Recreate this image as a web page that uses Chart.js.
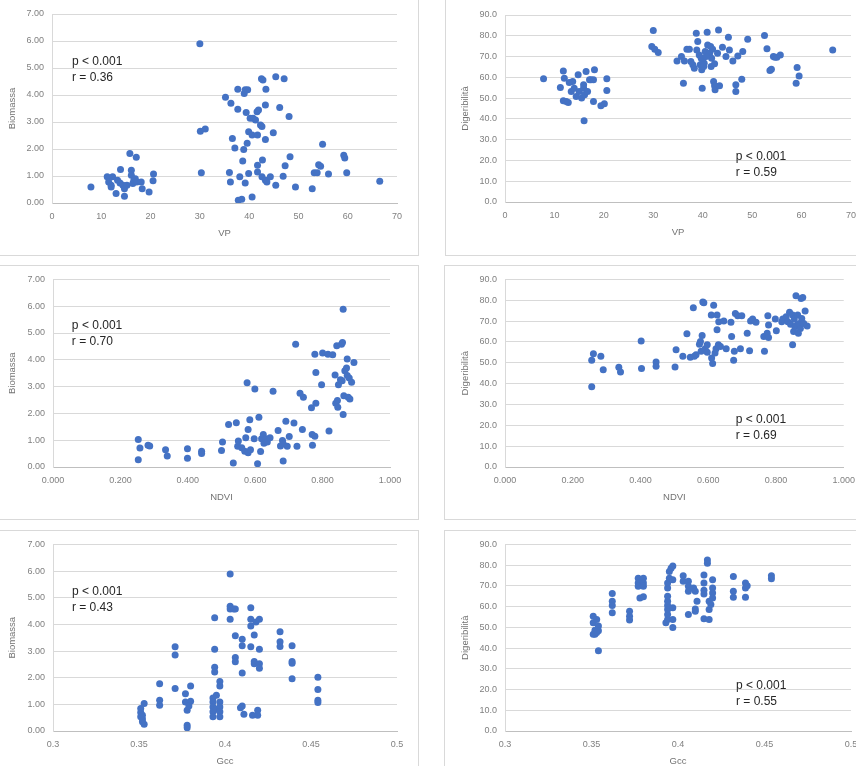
<!DOCTYPE html>
<html lang="it">
<head>
<meta charset="utf-8">
<title>Biomassa e digeribilità</title>
<script src="https://cdn.jsdelivr.net/npm/chart.js@4.4.0/dist/chart.umd.min.js"></script>
<style>
  html, body { margin: 0; padding: 0; background: #fff; }
  body { width: 856px; height: 766px; overflow: hidden; position: relative; }
  .panel { position: absolute; box-sizing: border-box; border: 1px solid #d9d9d9; }
  canvas { position: absolute; }
</style>
</head>
<body>
<div class="panel" style="left:-1px;top:-1px;width:420px;height:257px"></div>
<div class="panel" style="left:445px;top:-1px;width:420px;height:257px"></div>
<div class="panel" style="left:-1px;top:265px;width:420px;height:255px"></div>
<div class="panel" style="left:444px;top:265px;width:420px;height:255px"></div>
<div class="panel" style="left:-1px;top:530px;width:420px;height:250px"></div>
<div class="panel" style="left:444px;top:530px;width:420px;height:250px"></div>

<canvas id="vp-bio" width="417" height="243" style="left:0;top:0"></canvas>
<canvas id="vp-dig" width="427" height="242" style="left:453px;top:0"></canvas>
<canvas id="ndvi-bio" width="417" height="241" style="left:0;top:266px"></canvas>
<canvas id="ndvi-dig" width="410" height="241" style="left:453px;top:266px"></canvas>
<canvas id="gcc-bio" width="417" height="240" style="left:0;top:531px"></canvas>
<canvas id="gcc-dig" width="427" height="240" style="left:453px;top:531px"></canvas>

<script>
// Datos: pares [x, y]
const vpBiomassa = [
  [7.9,0.59],[11.2,0.97],[11.5,0.78],[12.0,0.66],[12.3,0.97],[12.0,0.59],[13.0,0.35],[13.3,0.84],[13.9,1.24],[13.8,0.74],
  [14.4,0.66],[14.7,0.25],[14.7,0.53],[15.2,0.66],[15.8,1.83],[16.1,1.21],[16.1,1.03],[16.4,0.72],[16.6,0.84],[16.9,0.90],
  [17.1,1.69],[17.2,0.78],[18.1,0.78],[18.3,0.53],[19.7,0.41],[20.5,0.82],[20.6,1.07],
  [30.0,5.90],[30.1,2.66],[31.1,2.74],[30.3,1.12],[35.2,3.92],[36.3,3.69],[36.6,2.39],[37.1,2.04],[37.7,4.21],[37.7,3.47],
  [38.1,0.97],[36.0,1.13],[36.2,0.78],[37.8,0.10],[38.5,0.14],[38.7,1.56],[38.9,1.98],[39.0,4.06],[39.2,4.19],[39.7,4.19],
  [39.4,3.35],[39.6,2.21],[39.2,0.74],[39.9,1.09],[39.9,2.64],[40.2,3.14],[40.6,2.52],[40.8,3.14],[40.6,0.22],[41.3,3.07],
  [41.6,3.38],[41.9,3.44],[41.7,2.52],[41.7,1.40],[41.7,1.15],[42.3,2.89],[42.6,2.83],[42.5,4.60],[42.8,4.56],[42.7,1.59],
  [42.6,0.97],[43.3,3.63],[43.4,4.21],[43.3,2.35],[43.3,0.84],[43.6,0.78],[44.3,0.97],[44.9,2.60],[45.4,4.68],[45.4,0.66],
  [46.2,3.54],[46.9,0.99],[47.1,4.60],[47.3,1.38],[48.1,3.20],[48.3,1.71],[49.4,0.59],[52.8,0.53],[53.2,1.12],[53.8,1.12],
  [54.1,1.42],[54.5,1.36],[54.9,2.18],[56.1,1.07],[59.2,1.77],[59.4,1.67],[59.8,1.12],[66.5,0.81]
];

const vpDigeribilita = [
  [7.8,59.3],[11.2,55.1],[11.8,63.1],[12.0,59.6],[11.8,48.7],[12.4,48.4],[12.8,47.9],[13.0,57.5],[13.7,58.0],[13.4,53.2],
  [14.0,54.8],[14.4,50.8],[14.8,61.2],[15.0,53.2],[15.5,50.0],[15.9,54.8],[16.1,51.6],[16.0,39.1],[16.4,62.8],[16.7,53.2],
  [17.1,58.8],[17.4,58.8],[17.9,48.4],[18.1,63.6],[17.9,58.8],[19.4,46.3],[20.1,47.3],[20.6,59.3],[20.6,53.7],[15.9,56.4],
  [30.0,82.5],[29.7,74.8],[30.3,73.5],[31.0,71.9],[34.8,67.9],[35.7,70.0],[36.1,57.2],[36.3,67.9],[36.8,73.5],[37.3,73.5],
  [37.6,67.6],[38.0,66.0],[38.3,64.4],[38.7,81.2],[39.0,77.2],[38.8,73.2],[39.3,70.8],[39.5,66.0],[39.8,63.6],[39.9,54.8],
  [40.0,68.4],[40.3,66.8],[40.5,72.4],[40.9,81.7],[41.0,75.6],[41.4,71.6],[41.6,74.8],[41.8,69.2],[42.0,73.5],[41.7,65.2],
  [42.2,58.0],[42.4,55.9],[42.5,54.0],[42.4,66.5],[43.0,71.6],[43.2,82.8],[43.4,55.9],[44.0,74.5],[44.7,70.0],[45.2,79.3],
  [45.4,73.2],[46.1,67.9],[46.7,56.4],[46.7,53.2],[47.1,70.3],[48.1,72.4],[47.9,59.1],[49.1,78.3],[52.5,80.1],[53.0,73.7],
  [53.6,63.3],[53.9,63.9],[54.3,70.0],[54.6,69.7],[55.0,69.7],[55.7,70.8],[58.9,57.2],[59.1,64.7],[59.5,60.7],[66.3,73.2],
  [39.7,69.2],[40.7,70.0],[40.2,65.2]
];

const ndviBiomassa = [
  [0.253,1.03],[0.253,0.27],[0.258,0.71],[0.282,0.81],[0.287,0.78],[0.334,0.64],[0.339,0.41],[0.399,0.68],[0.399,0.33],[0.441,0.59],
  [0.441,0.50],[0.500,0.62],[0.503,0.93],[0.521,1.59],[0.535,0.15],[0.544,1.65],[0.548,0.77],[0.550,0.97],[0.560,0.72],[0.569,0.59],
  [0.572,1.09],[0.576,3.14],[0.579,1.40],[0.579,0.53],[0.584,1.76],[0.586,0.64],[0.597,1.05],[0.599,2.91],[0.607,0.12],[0.611,1.86],
  [0.616,0.58],[0.619,1.05],[0.624,1.21],[0.626,0.89],[0.631,1.05],[0.636,0.93],[0.644,1.09],[0.653,2.83],[0.668,1.36],[0.675,0.78],
  [0.681,0.99],[0.683,0.22],[0.683,0.87],[0.691,1.71],[0.695,0.77],[0.701,1.14],[0.715,1.64],[0.720,4.58],[0.724,0.77],[0.733,2.75],
  [0.740,1.40],[0.743,2.60],[0.767,2.21],[0.769,1.21],[0.770,0.81],[0.777,4.21],[0.777,1.15],[0.780,2.38],[0.780,3.53],[0.797,3.07],
  [0.800,4.25],[0.816,4.21],[0.819,1.34],[0.830,4.19],[0.837,3.43],[0.839,2.38],[0.842,4.52],[0.844,2.48],[0.845,2.23],[0.847,3.07],
  [0.853,3.26],[0.856,4.58],[0.858,3.22],[0.859,4.65],[0.861,5.89],[0.861,1.96],[0.863,2.66],[0.866,3.59],[0.871,3.69],[0.873,4.03],
  [0.873,3.41],[0.876,2.60],[0.879,3.32],[0.881,2.54],[0.886,3.16],[0.893,3.90]
];

const ndviDigeribilita = [
  [0.256,38.5],[0.256,51.2],[0.261,54.3],[0.283,53.1],[0.290,46.7],[0.336,47.9],[0.341,45.6],[0.402,60.5],[0.403,47.2],[0.446,50.4],
  [0.446,48.3],[0.502,48.0],[0.505,56.3],[0.525,53.1],[0.537,63.9],[0.547,52.6],[0.556,76.4],[0.559,53.1],[0.564,53.9],[0.574,58.9],
  [0.577,60.2],[0.579,55.5],[0.582,63.1],[0.584,79.2],[0.587,78.8],[0.591,56.7],[0.597,58.6],[0.597,55.1],[0.609,72.9],[0.610,52.3],
  [0.613,49.6],[0.616,77.6],[0.620,54.7],[0.623,56.7],[0.626,72.9],[0.626,65.8],[0.630,58.6],[0.631,69.7],[0.636,57.8],[0.646,70.0],
  [0.653,56.7],[0.667,69.4],[0.669,62.6],[0.675,51.2],[0.677,55.5],[0.680,73.7],[0.687,72.6],[0.695,56.7],[0.699,72.6],[0.715,64.2],
  [0.722,55.8],[0.725,70.0],[0.731,71.0],[0.741,69.4],[0.764,62.6],[0.766,55.5],[0.774,64.2],[0.776,72.6],[0.778,68.1],[0.778,62.1],
  [0.798,71.0],[0.801,65.4],[0.817,69.7],[0.820,71.0],[0.830,72.1],[0.835,69.7],[0.840,74.2],[0.843,68.5],[0.849,72.9],[0.849,58.6],
  [0.852,65.0],[0.854,71.0],[0.856,67.3],[0.859,82.1],[0.862,68.1],[0.864,72.9],[0.866,64.2],[0.869,68.9],[0.872,66.5],[0.874,80.8],
  [0.876,71.3],[0.879,81.3],[0.882,68.9],[0.886,74.8],[0.892,67.7]
];

const gccBiomassa = [
  [0.351,0.84],[0.351,0.69],[0.352,0.45],[0.352,0.59],[0.353,1.03],[0.353,0.25],[0.352,0.35],[0.351,0.53],
  [0.362,1.77],[0.362,1.15],[0.362,0.97],[0.371,3.16],[0.371,2.85],[0.371,1.59],
  [0.377,1.40],[0.377,1.09],[0.378,0.78],[0.378,0.22],[0.378,0.12],[0.380,1.69],[0.380,1.12],[0.379,0.94],
  [0.394,4.25],[0.394,3.07],[0.394,2.39],[0.394,2.21],[0.393,1.24],[0.393,1.09],[0.393,0.90],[0.393,0.72],[0.393,0.53],[0.395,1.34],[0.395,0.82],
  [0.397,1.86],[0.397,1.69],[0.397,1.09],[0.397,0.90],[0.397,0.72],[0.397,0.53],
  [0.403,5.89],[0.403,4.68],[0.403,4.58],[0.403,4.19],[0.405,4.58],[0.406,4.58],[0.406,3.57],[0.406,2.76],[0.406,2.60],
  [0.410,3.44],[0.410,3.20],[0.410,2.18],[0.410,0.94],[0.409,0.87],[0.411,0.63],
  [0.415,4.62],[0.415,4.19],[0.415,3.94],[0.415,3.16],[0.416,0.59],[0.417,3.60],[0.417,2.61],[0.417,2.52],[0.418,4.09],
  [0.419,0.78],[0.419,0.59],[0.420,4.19],[0.420,3.07],[0.420,2.52],[0.420,2.35],
  [0.432,3.72],[0.432,3.35],[0.432,3.17],[0.439,3.20],[0.439,2.61],[0.439,2.54],[0.439,1.96],
  [0.454,2.02],[0.454,1.56],[0.454,1.15],[0.454,1.07]
];

const gccDigeribilita = [
  [0.351,55.4],[0.351,52.2],[0.352,48.6],[0.352,46.7],[0.353,53.8],[0.354,50.7],[0.354,48.3],[0.351,46.7],[0.354,38.7],[0.353,47.5],
  [0.362,66.3],[0.362,62.6],[0.362,60.5],[0.362,57.0],[0.372,57.8],[0.372,55.4],[0.372,53.5],
  [0.377,73.7],[0.377,71.4],[0.377,69.8],[0.378,64.2],[0.380,64.7],[0.380,73.7],[0.380,71.4],[0.380,69.8],
  [0.393,52.2],[0.394,53.8],[0.394,56.2],[0.394,58.6],[0.394,60.5],[0.394,62.6],[0.394,65.0],[0.394,69.0],[0.394,71.4],[0.395,73.7],[0.395,76.9],[0.396,78.5],
  [0.397,79.6],[0.397,73.0],[0.397,59.4],[0.397,53.8],[0.397,49.9],[0.403,74.9],[0.403,72.2],
  [0.406,72.2],[0.406,69.8],[0.406,67.4],[0.406,56.2],[0.409,69.0],[0.410,67.4],[0.410,57.8],[0.410,58.9],[0.411,62.6],
  [0.415,75.3],[0.415,71.4],[0.415,67.9],[0.415,66.1],[0.415,54.2],[0.417,82.5],[0.417,80.9],[0.418,62.6],[0.418,58.6],[0.418,53.8],
  [0.420,73.0],[0.420,69.0],[0.420,66.6],[0.420,64.2],[0.419,61.0],
  [0.432,74.5],[0.432,67.4],[0.432,64.5],[0.439,71.4],[0.439,69.0],[0.439,64.5],[0.440,70.1],
  [0.454,74.9],[0.454,73.4]
];

// Textos de correlación
const valoresP = ['p < 0.001', 'p < 0.001', 'p < 0.001', 'p < 0.001', 'p < 0.001', 'p < 0.001'];
const valoresR = ['r = 0.36', 'r = 0.59', 'r = 0.70', 'r = 0.69', 'r = 0.43', 'r = 0.55'];

const AZUL = '#4472C4';
const FUENTE = '"Liberation Sans", Arial, sans-serif';

// Plugin para escribir p y r sobre el área del gráfico
const textoStats = {
  id: 'textoStats',
  afterDatasetsDraw(chart, args, opts) {
    const { ctx, scales } = chart;
    const x = scales.x.getPixelForValue(opts.x);
    const y = scales.y.getPixelForValue(opts.y);
    ctx.save();
    ctx.font = '12px ' + FUENTE;
    ctx.fillStyle = '#262626';
    ctx.textAlign = 'left';
    ctx.textBaseline = 'middle';
    opts.lineas.forEach(function (t, i) {
      ctx.fillText(t, x, y + i * 16);
    });
    ctx.restore();
  }
};

// Función para crear cada gráfico de dispersión
function crearGrafico(id, puntos, cfg) {
  const ctx = document.getElementById(id).getContext('2d');
  return new Chart(ctx, {
    type: 'scatter',
    data: {
      datasets: [{
        data: puntos.map(function (p) { return { x: p[0], y: p[1] }; }),
        backgroundColor: AZUL,
        borderColor: AZUL,
        borderWidth: 0,
        pointRadius: 3.5,
        pointHoverRadius: 3.5
      }]
    },
    options: {
      responsive: false,
      animation: false,
      events: [],
      layout: { padding: { left: 0, top: cfg.padTop, right: cfg.padRight, bottom: 0 } },
      plugins: {
        legend: { display: false },
        tooltip: { enabled: false },
        textoStats: { x: cfg.textoX, y: cfg.textoY, lineas: cfg.lineas }
      },
      scales: {
        x: {
          type: 'linear',
          min: cfg.xMin,
          max: cfg.xMax,
          ticks: {
            stepSize: cfg.xStep,
            color: '#808080',
            font: { family: FUENTE, size: 9 },
            padding: 8,
            maxRotation: 0,
            callback: cfg.xFormato
          },
          grid: { drawOnChartArea: false, drawTicks: false },
          border: { display: true, color: '#bfbfbf' },
          title: {
            display: true,
            text: cfg.xTitulo,
            color: '#737373',
            font: { family: FUENTE, size: 9.5 },
            padding: { top: 0, bottom: 4 }
          },
          afterFit: function (s) { s.height = 40; }
        },
        y: {
          min: cfg.yMin,
          max: cfg.yMax,
          ticks: {
            stepSize: cfg.yStep,
            color: '#808080',
            font: { family: FUENTE, size: 9 },
            padding: 8,
            callback: cfg.yFormato
          },
          grid: { color: '#d9d9d9', drawTicks: false },
          border: { display: true, color: '#d9d9d9' },
          title: {
            display: true,
            text: cfg.yTitulo,
            color: '#737373',
            font: { family: FUENTE, size: 9.5 },
            padding: { top: 7, bottom: 0 }
          },
          afterFit: function (s) { s.width = cfg.yAncho; }
        }
      }
    },
    plugins: [textoStats]
  });
}

const fmtVP = function (v) { return String(Math.round(v)); };
const fmtNDVI = function (v) { return v.toFixed(3); };
const fmtGcc = function (v) { return String(parseFloat(v.toFixed(2))); };
const fmtBio = function (v) { return v.toFixed(2); };
const fmtDig = function (v) { return v.toFixed(1); };

document.addEventListener('DOMContentLoaded', function () {
  const bio = { yMin: 0, yMax: 7, yStep: 1, yFormato: fmtBio, yTitulo: 'Biomassa' };
  const dig = { yMin: 0, yMax: 90, yStep: 10, yFormato: fmtDig, yTitulo: 'Digeribilità' };
  const vp = { xMin: 0, xMax: 70, xStep: 10, xFormato: fmtVP, xTitulo: 'VP' };
  const ndvi = { xMin: 0, xMax: 1, xStep: 0.2, xFormato: fmtNDVI, xTitulo: 'NDVI' };
  const gcc = { xMin: 0.3, xMax: 0.5, xStep: 0.05, xFormato: fmtGcc, xTitulo: 'Gcc' };

  crearGrafico('vp-bio', vpBiomassa, Object.assign({}, bio, vp, {
    yAncho: 52, padTop: 14, padRight: 20, textoX: 4.06, textoY: 5.22, lineas: [valoresP[0], valoresR[0]]
  }));
  crearGrafico('vp-dig', vpDigeribilita, Object.assign({}, dig, vp, {
    yAncho: 52, padTop: 15, padRight: 29, textoX: 46.7, textoY: 21.7, lineas: [valoresP[1], valoresR[1]]
  }));
  crearGrafico('ndvi-bio', ndviBiomassa, Object.assign({}, bio, ndvi, {
    yAncho: 53, padTop: 12, padRight: 27, textoX: 0.056, textoY: 5.26, lineas: [valoresP[2], valoresR[2]]
  }));
  crearGrafico('ndvi-dig', ndviDigeribilita, Object.assign({}, dig, ndvi, {
    yAncho: 52, padTop: 11, padRight: 19, textoX: 0.681, textoY: 22.7, lineas: [valoresP[3], valoresR[3]]
  }));
  crearGrafico('gcc-bio', gccBiomassa, Object.assign({}, bio, gcc, {
    yAncho: 53, padTop: 12, padRight: 20, textoX: 0.311, textoY: 5.21, lineas: [valoresP[4], valoresR[4]]
  }));
  crearGrafico('gcc-dig', gccDigeribilita, Object.assign({}, dig, gcc, {
    yAncho: 52, padTop: 12, padRight: 29, textoX: 0.4335, textoY: 22.0, lineas: [valoresP[5], valoresR[5]]
  }));
});
</script>
</body>
</html>
